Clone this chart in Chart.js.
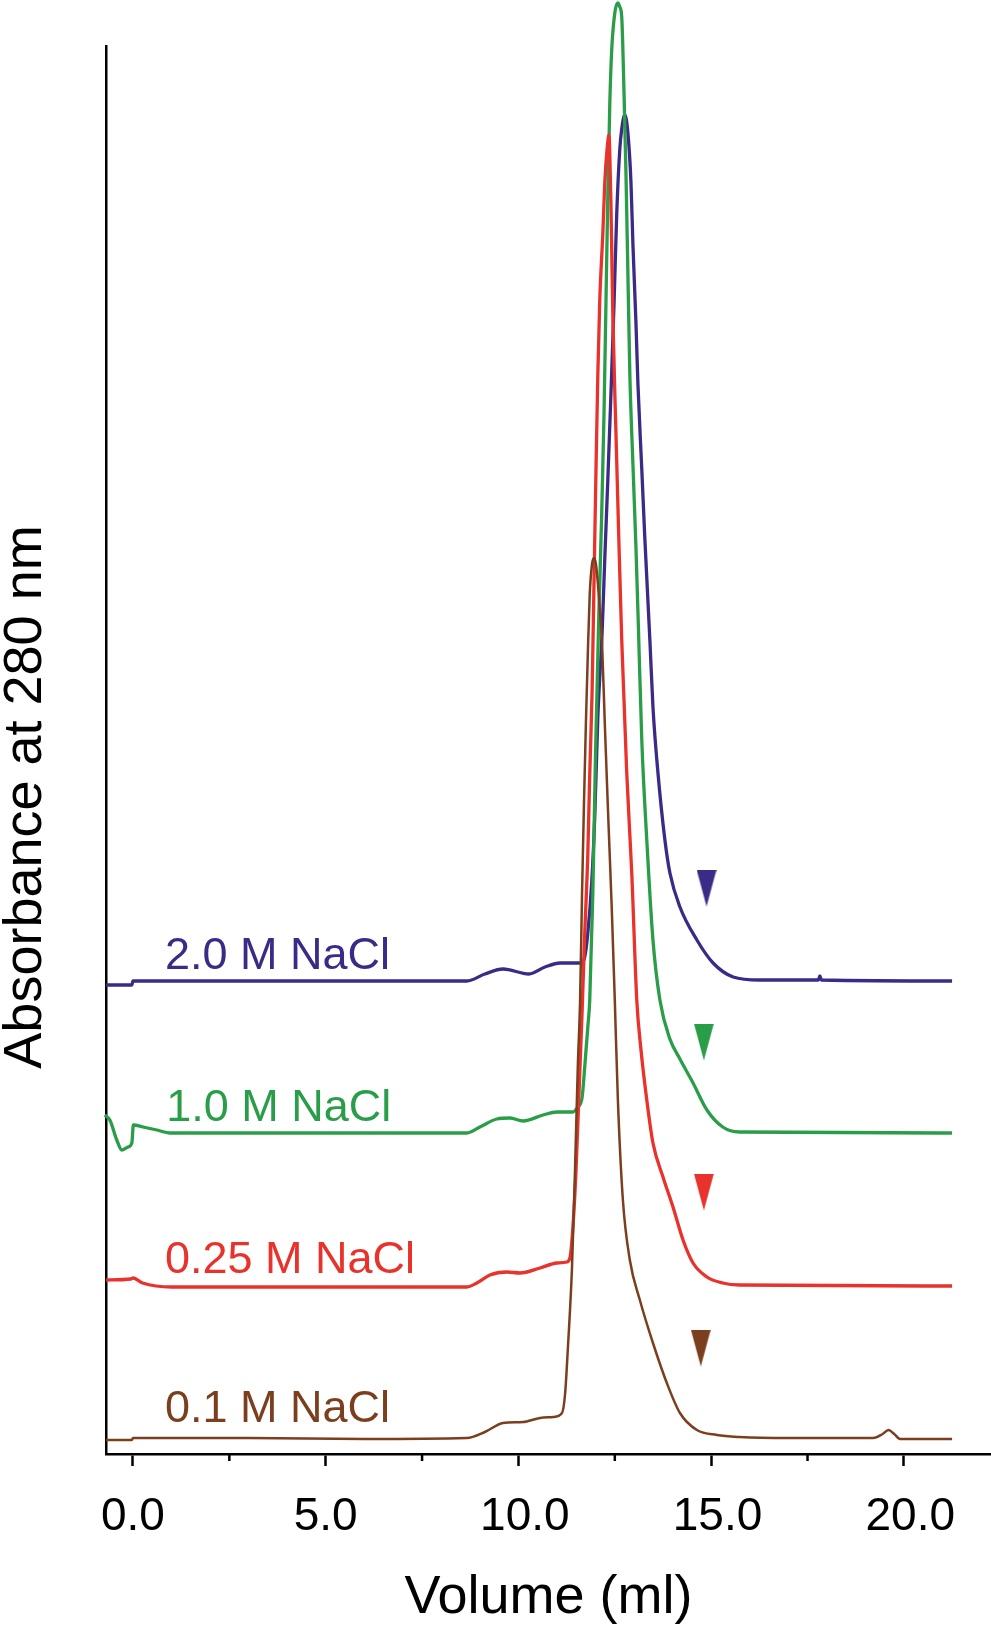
<!DOCTYPE html>
<html>
<head>
<meta charset="utf-8">
<script src="https://cdn.jsdelivr.net/npm/chart.js@4.4.1/dist/chart.umd.min.js"></script>
<style>
  html, body { margin: 0; padding: 0; background: #fff; }
</style>
</head>
<body>
<canvas id="chart" width="991" height="1625"></canvas>
<script>
// elution volume (ml) / absorbance (arbitrary, stacked traces)
const vol20 = [-0.70, -0.03, 0.00, 8.66, 9.13, 9.60, 10.27, 10.69, 11.08, 11.65, 11.72, 11.80, 11.90, 11.98, 12.06, 12.17, 12.24, 12.32, 12.40, 12.48, 12.55, 12.63, 12.68, 12.76, 12.84, 12.92, 12.97, 13.05, 13.10, 13.20, 13.28, 13.41, 13.49, 13.62, 13.80, 13.93, 14.19, 14.63, 15.05, 15.57, 16.26, 17.00, 17.78, 17.82, 17.86, 21.25]
const abs20 = [469, 469, 473, 473, 480, 485, 480, 487, 491, 491, 497, 521, 571, 637, 737, 821, 895, 975, 1060, 1150, 1240, 1305, 1325, 1339, 1321, 1271, 1210, 1130, 1070, 985, 915, 814, 747, 681, 614, 581, 547, 514, 491, 477, 474, 474, 474, 478, 474, 473]

const vol10 = [-0.73, -0.60, -0.42, -0.29, -0.13, -0.03, 0.01, 0.26, 0.62, 0.96, 8.66, 9.00, 9.44, 9.78, 10.12, 10.64, 11.00, 11.41, 11.54, 11.65, 11.72, 11.80, 11.85, 11.93, 12.00, 12.08, 12.16, 12.22, 12.27, 12.32, 12.37, 12.42, 12.50, 12.58, 12.63, 12.68, 12.74, 12.79, 12.84, 12.89, 12.97, 13.05, 13.11, 13.20, 13.33, 13.49, 13.67, 13.93, 14.19, 14.53, 14.89, 15.30, 15.74, 21.25]
const abs10 = [339, 334, 314, 304, 307, 311, 329, 327, 324, 321, 321, 327, 335, 336, 333, 339, 342, 342, 347, 356, 387, 427, 454, 560, 700, 830, 940, 1040, 1150, 1260, 1350, 1404, 1441, 1451, 1447, 1437, 1360, 1280, 1180, 1080, 990, 905, 830, 714, 614, 514, 454, 415, 395, 371, 344, 327, 322, 321]

const vol025 = [-0.70, -0.05, 0.00, 0.25, 1.00, 8.66, 8.92, 9.26, 9.70, 10.04, 10.56, 11.00, 11.26, 11.34, 11.41, 11.49, 11.57, 11.65, 11.72, 11.80, 11.85, 11.91, 11.96, 12.01, 12.06, 12.11, 12.19, 12.24, 12.30, 12.35, 12.37, 12.40, 12.42, 12.45, 12.53, 12.60, 12.68, 12.81, 12.94, 13.07, 13.18, 13.33, 13.49, 13.75, 14.01, 14.27, 14.53, 14.89, 15.30, 15.74, 21.25]
const abs025 = [174, 175, 176, 171, 167, 167, 171, 179, 182, 181, 186, 191, 192, 197, 225, 280, 360, 440, 520, 600, 680, 760, 870, 980, 1080, 1154, 1221, 1271, 1305, 1319, 1300, 1250, 1204, 1137, 1021, 921, 814, 681, 581, 454, 404, 354, 311, 277, 247, 214, 191, 177, 171, 169, 168]

const vol01 = [-0.70, -0.03, 0.00, 3.00, 6.00, 8.66, 9.13, 9.60, 10.12, 10.56, 10.90, 11.13, 11.21, 11.28, 11.39, 11.47, 11.54, 11.60, 11.65, 11.70, 11.75, 11.80, 11.85, 11.91, 11.96, 12.01, 12.06, 12.11, 12.17, 12.24, 12.32, 12.42, 12.50, 12.58, 12.71, 12.89, 13.15, 13.49, 13.85, 14.19, 14.63, 15.15, 15.74, 17.00, 19.20, 19.45, 19.60, 19.75, 19.90, 21.25]
const abs01 = [14, 14, 16, 16, 15, 16, 22, 31, 32, 36, 37, 41, 60, 104, 187, 287, 387, 454, 560, 650, 730, 800, 860, 890, 896, 890, 871, 845, 810, 731, 647, 547, 454, 354, 254, 194, 154, 111, 71, 41, 24, 19, 17, 16, 16, 20, 24, 20, 15, 15]

const seriesNames = ['2.0 M NaCl', '1.0 M NaCl', '0.25 M NaCl', '0.1 M NaCl']
const seriesColors = ['#3b2a86', '#2a9d48', '#e8322b', '#7b3f1e']

// arrowheads above each trace
const markerVol = [14.88, 14.81, 14.81, 14.73]
const markerAbs = [566, 412, 262, 106]

// trace labels (left edge, text baseline)
const labelVol = [0.83, 0.86, 0.83, 0.83]
const labelAbs = [485, 333, 181, 32]

const majorTicks = [0, 5, 10, 15, 20]
const minorTicks = [2.5, 7.5, 12.5, 17.5]
// two-digit labels sit a little right of their tick in the original
const tickLabels = ['0.0', '5.0', ' 10.0', ' 15.0', ' 20.0']

const FONT = '"Liberation Sans", Arial, Helvetica, sans-serif'
Chart.defaults.font.family = FONT
Chart.defaults.color = '#000'

const toPoints = (xs, ys) => xs.map((x, i) => ({ x, y: ys[i] }))

// downward arrowhead drawn once per colour, used as point image
const makeArrow = (color) => {
  const c = document.createElement('canvas')
  c.width = 20
  c.height = 37
  const g = c.getContext('2d')
  g.fillStyle = color
  g.beginPath()
  g.moveTo(0, 0)
  g.lineTo(20, 0)
  g.lineTo(10, 37)
  g.closePath()
  g.fill()
  return c
}
const arrows = seriesColors.map(makeArrow)

const traces = [
  [vol20, abs20, 3.3],
  [vol10, abs10, 3.3],
  [vol025, abs025, 3.3],
  [vol01, abs01, 2.5]
]

const datasets = traces.map(([xs, ys, w], i) => ({
  label: seriesNames[i],
  data: toPoints(xs, ys),
  borderColor: seriesColors[i],
  borderWidth: w,
  pointRadius: 0,
  cubicInterpolationMode: 'monotone',
  clip: false,
  order: 4 - i
}))

datasets.push({
  label: 'markers',
  data: toPoints(markerVol, markerAbs),
  showLine: false,
  pointRadius: 10,
  pointStyle: arrows,
  order: 0
})

const extras = {
  id: 'extras',
  afterDraw(chart) {
    const { ctx, chartArea, scales: { x, y } } = chart
    ctx.save()

    // minor ticks, shorter than the major ones
    ctx.strokeStyle = '#000'
    ctx.lineWidth = 2.5
    minorTicks.forEach(v => {
      const px = x.getPixelForValue(v)
      ctx.beginPath()
      ctx.moveTo(px, chartArea.bottom)
      ctx.lineTo(px, chartArea.bottom + 7)
      ctx.stroke()
    })

    // trace labels
    ctx.font = '45px ' + FONT
    ctx.textAlign = 'left'
    ctx.textBaseline = 'alphabetic'
    seriesNames.forEach((name, i) => {
      ctx.fillStyle = seriesColors[i]
      ctx.fillText(name, x.getPixelForValue(labelVol[i]), y.getPixelForValue(labelAbs[i]))
    })

    // y axis title, sits lower than the axis middle in the original
    ctx.fillStyle = '#000'
    ctx.font = '54px ' + FONT
    ctx.textAlign = 'center'
    ctx.textBaseline = 'middle'
    ctx.translate(26, (chartArea.top + chartArea.bottom) / 2 + 47)
    ctx.rotate(-Math.PI / 2)
    ctx.fillText('Absorbance at 280 nm', 0, 0)
    ctx.restore()
  }
}

new Chart(document.getElementById('chart'), {
  type: 'line',
  data: { datasets },
  plugins: [extras],
  options: {
    responsive: false,
    animation: false,
    layout: { autoPadding: false, padding: { top: 46, left: 0, right: 0, bottom: 0 } },
    plugins: {
      legend: { display: false },
      tooltip: { enabled: false }
    },
    scales: {
      x: {
        type: 'linear',
        min: -0.70,
        max: 22.26,
        afterFit: s => { s.height = 171 },
        afterBuildTicks: s => { s.ticks = majorTicks.map(v => ({ value: v })) },
        border: { display: true, color: '#000', width: 2.5 },
        grid: { drawOnChartArea: false, drawTicks: true, tickLength: 12, tickColor: '#000', tickWidth: 2.5 },
        ticks: {
          padding: 24,
          color: '#000',
          font: { size: 46 },
          maxRotation: 0,
          autoSkip: false,
          callback: (v) => tickLabels[majorTicks.indexOf(v)]
        },
        title: {
          display: true,
          text: 'Volume (ml)',
          color: '#000',
          font: { size: 54, lineHeight: 1 },
          padding: { top: 0, bottom: 0 }
        }
      },
      y: {
        min: 0,
        max: 1408,
        afterFit: s => { s.width = 106 },
        ticks: { display: false },
        grid: { display: false },
        border: { display: true, color: '#000', width: 2.5 }
      }
    }
  }
})
</script>
</body>
</html>
